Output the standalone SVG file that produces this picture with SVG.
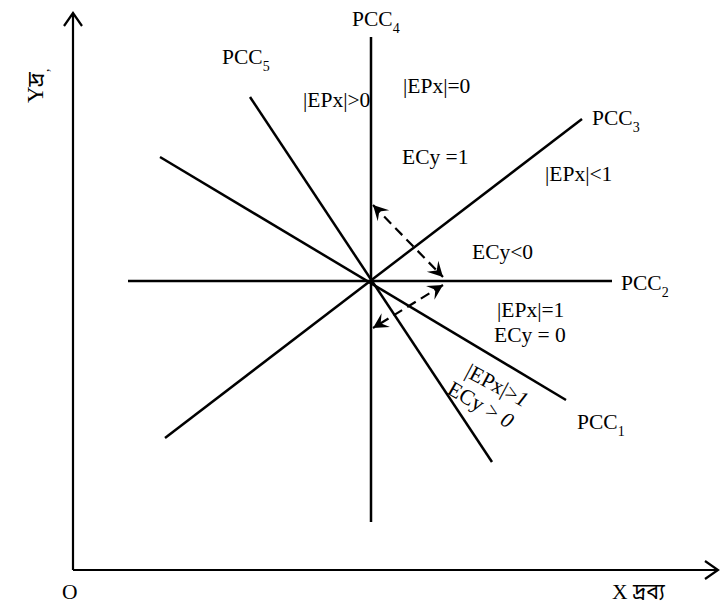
<svg xmlns="http://www.w3.org/2000/svg" width="721" height="604" viewBox="0 0 721 604">
<style>
.ax{stroke:#000;stroke-width:2.2;fill:none}
.ln{stroke:#000;stroke-width:2.5;fill:none}
.ds{stroke:#000;stroke-width:2.2;fill:none;stroke-dasharray:10 6}
text{font-family:"Liberation Serif","Noto Sans Bengali","DejaVu Sans",serif;font-size:21.5px;fill:#000}
.sub{font-size:14px}
</style>
<defs>
<marker id="ah" viewBox="-16 -9 18 18" markerWidth="18" markerHeight="18" refX="0" refY="0" orient="auto-start-reverse" markerUnits="userSpaceOnUse">
<path d="M0,0 L-15,-8 L-9,0 L-15,8 Z" fill="#000"/>
</marker>
</defs>
<rect width="721" height="604" fill="#fff"/>
<g id="connectors">
<path class="ax" d="M73,570 V14 M64,26 L73,13 L82,26"/>
<path class="ax" d="M73,570 H717 M705,561 L718,570 L705,579"/>
<line class="ln" x1="371" y1="37" x2="371" y2="522"/>
<line class="ln" x1="128" y1="281" x2="612" y2="281"/>
<line class="ln" x1="165" y1="438" x2="582" y2="119"/>
<line class="ln" x1="160" y1="157" x2="566" y2="400"/>
<line class="ln" x1="250" y1="97" x2="492" y2="462"/>
<line class="ds" x1="373" y1="205" x2="443" y2="277" marker-start="url(#ah)" marker-end="url(#ah)"/>
<line class="ds" x1="443" y1="285" x2="373" y2="328" marker-start="url(#ah)" marker-end="url(#ah)"/>
</g>
<g id="pcc4"><text x="352" y="26">PCC<tspan class="sub" dy="7">4</tspan></text></g>
<g id="pcc5"><text x="222" y="64">PCC<tspan class="sub" dy="7">5</tspan></text></g>
<g id="pcc3"><text x="592" y="125">PCC<tspan class="sub" dy="7">3</tspan></text></g>
<g id="pcc2"><text x="621" y="290">PCC<tspan class="sub" dy="7">2</tspan></text></g>
<g id="pcc1"><text x="577" y="429">PCC<tspan class="sub" dy="7">1</tspan></text></g>
<g id="labels">
<text x="303" y="107">|EPx|&gt;0</text>
<text x="403" y="93">|EPx|=0</text>
<text x="402" y="164">ECy =1</text>
<text x="545" y="181">|EPx|&lt;1</text>
<text x="472" y="259">ECy&lt;0</text>
<text x="497" y="317">|EPx|=1</text>
<text x="494" y="342">ECy = 0</text>
<text transform="translate(464,376) rotate(28)">|EPx|&gt;<tspan font-style="italic">1</tspan></text>
<text transform="translate(446,393) rotate(30)">ECy &gt; <tspan font-style="italic">0</tspan></text>
<text x="62" y="599">O</text>
<text x="612" y="599">X দ্রব্য</text>
<text transform="translate(43,103) rotate(-90)" style="font-size:23px">Yদ্র<tspan class="sub" dy="6">,</tspan></text>
</g>
</svg>
